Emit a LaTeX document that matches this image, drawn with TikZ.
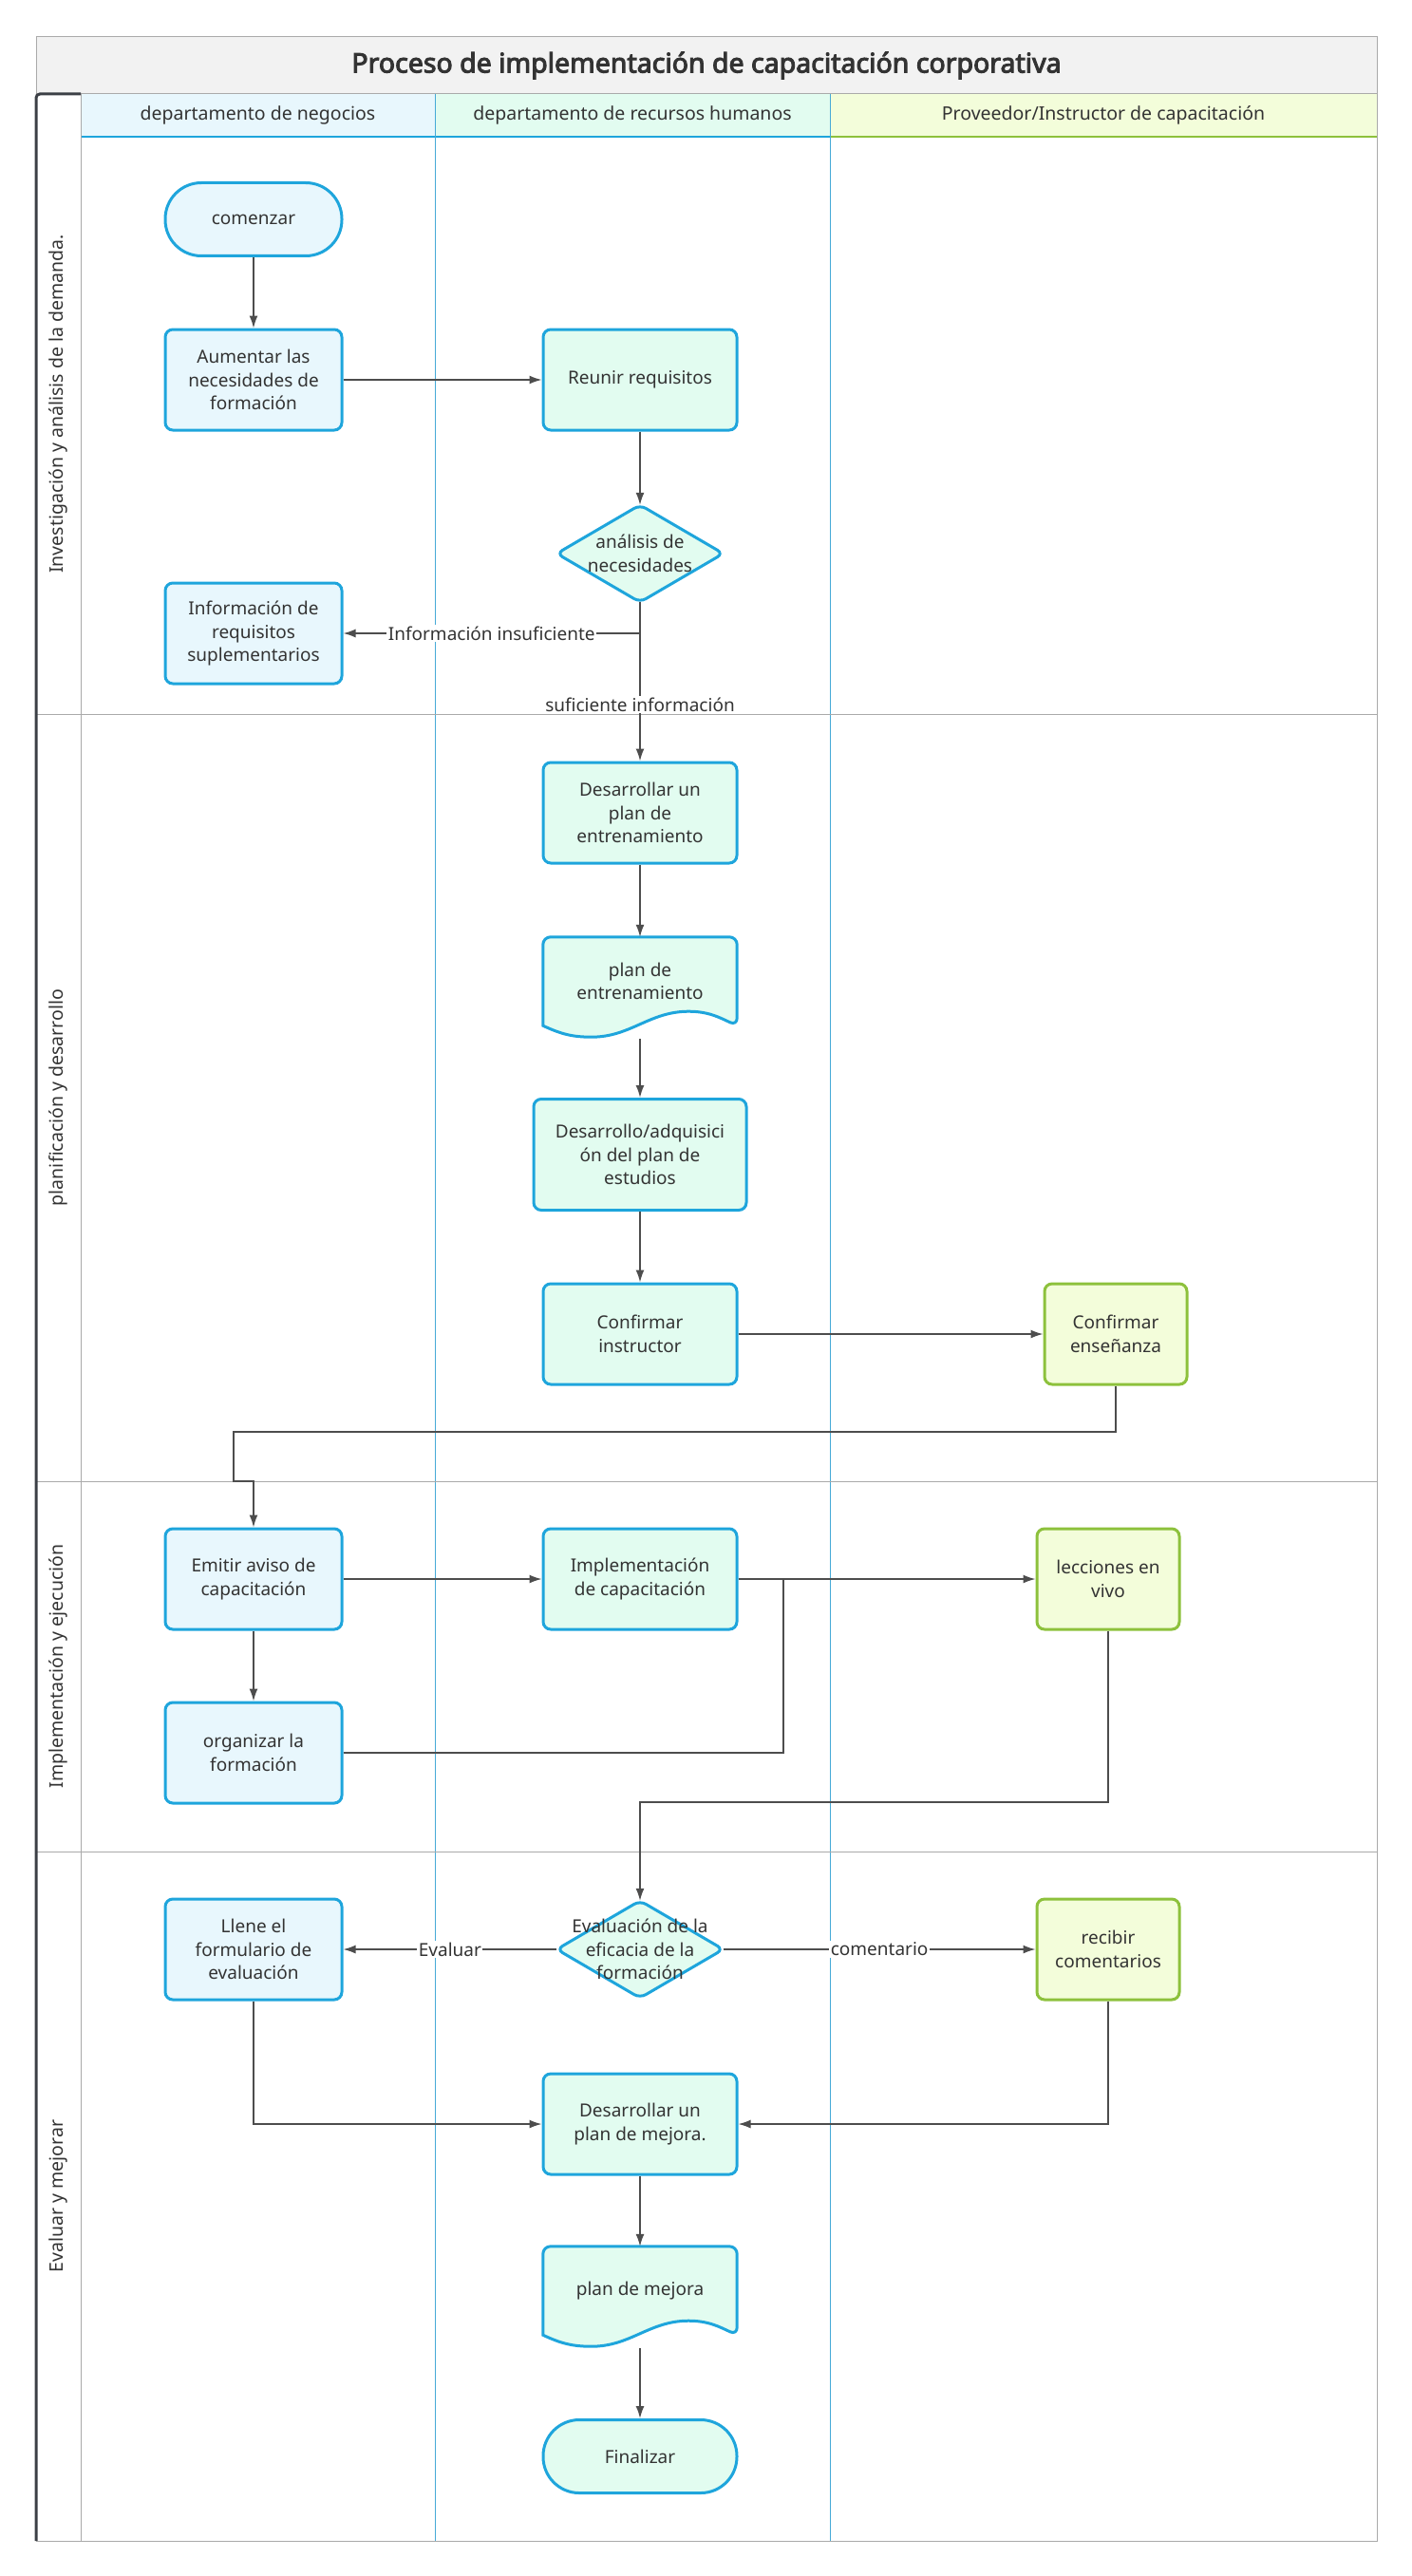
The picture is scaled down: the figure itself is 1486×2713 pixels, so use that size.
\documentclass[tikz,border=0pt]{standalone}
\usepackage{fontspec}
\setmainfont{Noto Sans}
\newfontfamily\titlefont{Noto Sans}[FakeBold=3.5]
\usetikzlibrary{arrows.meta,calc,backgrounds}

\begin{document}
\begin{tikzpicture}[x=1pt,y=1pt]
    % 定义颜色
    \definecolor{textdark}{RGB}{51, 51, 51}
    \definecolor{linegray}{RGB}{77, 77, 77}
    \definecolor{framegray}{RGB}{170, 170, 170}
    \definecolor{framedark}{RGB}{60, 64, 70}
    \definecolor{titlefill}{RGB}{242, 242, 242}
    \definecolor{boxblue}{RGB}{30, 165, 220}
    \definecolor{boxgreen}{RGB}{141, 193, 60}
    \definecolor{bizfill}{RGB}{232, 247, 253}
    \definecolor{hrfill}{RGB}{226, 252, 240}
    \definecolor{vendfill}{RGB}{243, 253, 218}
    \definecolor{lanesep}{RGB}{70, 170, 215}
    % 自定义命令：文档形状（底部波浪）
    \newcommand{\DocShape}[2]{
        \filldraw[#2] (#1.south west) [rounded corners=8pt] -- (#1.north west)
            -- (#1.north east) -- (#1.south east) [sharp corners]
            to[out=155,in=0] ($(#1.south west)!0.75!(#1.south east)+(0,15)$)
            to[out=180,in=0] ($(#1.south west)!0.25!(#1.south east)+(0,-12)$)
            to[out=180,in=-25] (#1.south west) -- cycle;}
    % 自定义命令：判断菱形
    \newcommand{\DecShape}[2]{
        \filldraw[#2, rounded corners=7pt] ($(#1.north)!0.5!(#1.east)$) -- (#1.east)
            -- (#1.south) -- (#1.west) -- (#1.north) -- cycle;}

    % --- 设置全局样式 ---
    \tikzset{BoxStyle/.style = {
        rectangle,              % 形状：矩形
        rounded corners=8pt,    % 圆角
        line width=3pt,         % 边框粗细
        inner sep=4pt,          % 内部文字边距
        align=center,           % 文字居中
        text=textdark,          % 文字颜色
        font=\fontsize{19}{24.5}\selectfont
    }}
    \tikzset{BizStyle/.style = {BoxStyle, draw=boxblue, fill=bizfill,
        minimum width=186, minimum height=106}}
    \tikzset{HRStyle/.style = {BoxStyle, draw=boxblue, fill=hrfill,
        minimum width=204, minimum height=106}}
    \tikzset{VendStyle/.style = {BoxStyle, draw=boxgreen, fill=vendfill,
        minimum width=150, minimum height=106}}
    \tikzset{TermStyle/.style = {rounded corners=38pt, minimum height=77}}
    \tikzset{DocStyle/.style = {
        rectangle, inner sep=0pt, align=center, text=textdark,
        font=\fontsize{19}{24.5}\selectfont,
        minimum width=204, minimum height=93
    }}
    \tikzset{DecStyle/.style = {
        rectangle, inner sep=0pt, align=center, text=textdark,
        font=\fontsize{19}{24.5}\selectfont,
        minimum width=175, minimum height=102
    }}
    \tikzset{ShapeLine/.style = {draw=boxblue, fill=hrfill, line width=3pt}}

    % 连线样式
    \tikzset{LineStyle/.style = {
        line width=1.5pt,       % 线条粗细
        draw=linegray           % 线条颜色
    }}
    \tikzset{EdgeStyle/.style = {
        LineStyle,
        -{Latex[length=13pt,width=9pt]}   % 箭头
    }}
    \tikzset{EdgeLabel/.style = {
        fill=white, inner sep=1.5pt, text=textdark,
        font=\fontsize{19}{24.5}\selectfont
    }}

    % 泳道文字样式
    \tikzset{TitleStyle/.style = {text=textdark, font=\titlefont\fontsize{28.5}{34}\selectfont}}
    \tikzset{HeadLabel/.style = {text=textdark, font=\fontsize{19.5}{24}\selectfont}}
    \tikzset{LaneLabel/.style = {text=textdark, rotate=90, font=\fontsize{19.5}{24}\selectfont}}

    \useasboundingbox (0,0) rectangle (1486,-2713);

    % --- 泳道 ---
    % 标题栏
    \filldraw[fill=titlefill, draw=framegray, line width=1pt] (38,-39) rectangle (1450,-99);
    \node[TitleStyle] (title) at (744,-69) {Proceso de implementación de capacitación corporativa};

    % 表头
    \fill[bizfill] (85,-99) rectangle (458,-144);
    \fill[hrfill] (458,-99) rectangle (874,-144);
    \fill[vendfill] (874,-99) rectangle (1450,-144);
    \draw[boxblue, line width=1.5pt] (85,-144) -- (874,-144);
    \draw[boxgreen, line width=1.5pt] (874,-144) -- (1450,-144);
    \node[HeadLabel] (head1) at (271.5,-121.5) {departamento de negocios};
    \node[HeadLabel] (head2) at (666,-121.5) {departamento de recursos humanos};
    \node[HeadLabel] (head3) at (1162,-121.5) {Proveedor/Instructor de capacitación};

    % 分隔线
    \draw[lanesep, line width=1pt] (458,-99) -- (458,-2676);
    \draw[lanesep, line width=1pt] (874,-99) -- (874,-2676);
    \draw[framegray, line width=1pt] (85,-99) -- (85,-2676);
    \draw[framegray, line width=1pt] (38,-752) -- (1450,-752);
    \draw[framegray, line width=1pt] (38,-1560) -- (1450,-1560);
    \draw[framegray, line width=1pt] (38,-1950) -- (1450,-1950);
    \draw[framegray, line width=1pt] (1450,-99) -- (1450,-2676) -- (38,-2676);
    \draw[framedark, line width=3pt, rounded corners=4pt] (85,-99) -- (38,-99) -- (38,-2676);

    % 泳道名称
    \node[LaneLabel] (lane1) at (61,-425.5) {Investigación y análisis de la demanda.};
    \node[LaneLabel] (lane2) at (61,-1156) {planificación y desarrollo};
    \node[LaneLabel] (lane3) at (61,-1755) {Implementación y ejecución};
    \node[LaneLabel] (lane4) at (61,-2313) {Evaluar y mejorar};

    % --- 定义节点 ---
    % 调研与需求分析
    \node[BizStyle, TermStyle] (start) at (267,-231) {comenzar};
    \node[BizStyle] (raise) at (267,-400) {Aumentar las\\necesidades de\\formación};
    \node[HRStyle] (gather) at (674,-400) {Reunir requisitos};
    \node[DecStyle] (needs) at (674,-583) {análisis de\\necesidades};
    \node[BizStyle] (suppl) at (267,-667) {Información de\\requisitos\\suplementarios};

    % 计划与开发
    \node[HRStyle] (plan) at (674,-856) {Desarrollar un\\plan de\\entrenamiento};
    \node[DocStyle] (plandoc) at (674,-1033.5) {plan de\\entrenamiento};
    \node[HRStyle, minimum width=224, minimum height=117] (course) at (674,-1216) {Desarrollo/adquisici\\ón del plan de\\estudios};
    \node[HRStyle] (instr) at (674,-1405) {Confirmar\\instructor};
    \node[VendStyle] (teach) at (1175,-1405) {Confirmar\\enseñanza};

    % 实施与执行
    \node[BizStyle] (notice) at (267,-1663) {Emitir aviso de\\capacitación};
    \node[HRStyle] (impl) at (674,-1663) {Implementación\\de capacitación};
    \node[VendStyle] (live) at (1167,-1663) {lecciones en\\vivo};
    \node[BizStyle] (organize) at (267,-1846) {organizar la\\formación};

    % 评估与改进
    \node[DecStyle] (effect) at (674,-2053) {Evaluación de la\\eficacia de la\\formación};
    \node[BizStyle] (form) at (267,-2053) {Llene el\\formulario de\\evaluación};
    \node[VendStyle] (feedback) at (1167,-2053) {recibir\\comentarios};
    \node[HRStyle] (improve) at (674,-2237) {Desarrollar un\\plan de mejora.};
    \node[DocStyle] (impdoc) at (674,-2412.5) {plan de mejora};
    \node[HRStyle, TermStyle] (finish) at (674,-2587) {Finalizar};

    % 菱形与文档形状（背景层）
    \begin{pgfonlayer}{background}
        \DecShape{needs}{ShapeLine}
        \DecShape{effect}{ShapeLine}
        \DocShape{plandoc}{ShapeLine}
        \DocShape{impdoc}{ShapeLine}
    \end{pgfonlayer}

    % 折点
    \coordinate (jogA) at (246,-1508);
    \coordinate (jogB) at (267,-1560);
    \coordinate (merge) at (825,-1663);
    \coordinate (evalTop) at (674,-1898);

    % --- 定义连线 ---
    \draw[EdgeStyle] (start) -- (raise);
    \draw[EdgeStyle] (raise) -- (gather);
    \draw[EdgeStyle] (gather) -- (needs.north);
    \draw[EdgeStyle] (needs.south) |- node[EdgeLabel, pos=0.75] {Información insuficiente} (suppl.east);
    \draw[EdgeStyle] (needs.south) -- node[EdgeLabel, pos=0.645] {suficiente información} (plan.north);
    \draw[EdgeStyle] (plan) -- (plandoc.north);
    \draw[EdgeStyle] ([yshift=-14pt]plandoc.south) -- (course.north);
    \draw[EdgeStyle] (course) -- (instr);
    \draw[EdgeStyle] (instr) -- (teach);
    \draw[EdgeStyle] (teach.south) |- (jogA) |- (jogB) -- (notice.north);
    \draw[EdgeStyle] (notice) -- (impl);
    \draw[EdgeStyle] (impl) -- (live);
    \draw[EdgeStyle] (notice) -- (organize);
    \draw[LineStyle] (organize.east) -| (merge);
    \draw[EdgeStyle] (live.south) |- (evalTop) -- (effect.north);
    \draw[EdgeStyle] (effect.west) -- node[EdgeLabel] {Evaluar} (form.east);
    \draw[EdgeStyle] (effect.east) -- node[EdgeLabel] {comentario} (feedback.west);
    \draw[EdgeStyle] (form.south) |- (improve.west);
    \draw[EdgeStyle] (feedback.south) |- (improve.east);
    \draw[EdgeStyle] (improve) -- (impdoc.north);
    \draw[EdgeStyle] ([yshift=-14pt]impdoc.south) -- (finish.north);

\end{tikzpicture}
\end{document}
